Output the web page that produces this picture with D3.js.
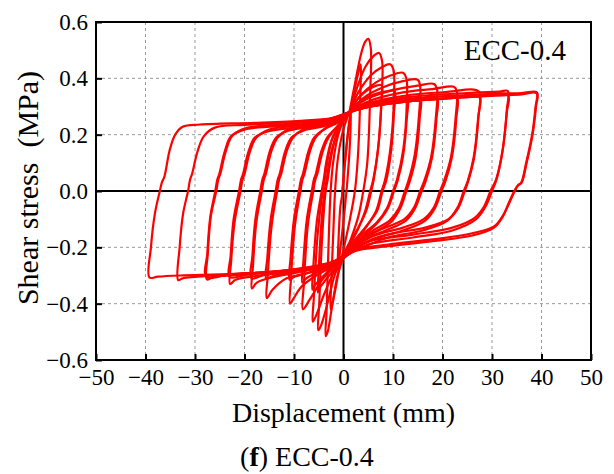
<!DOCTYPE html>
<html>
<head>
<meta charset="utf-8">
<script src="https://cdn.jsdelivr.net/npm/d3@7"></script>
<style>
  body { margin: 0; background: #fff; }
  svg { display: block; }
  svg text { font-family: "Liberation Serif", "Times New Roman", serif !important; fill: #000; }
</style>
</head>
<body>
<svg id="chart" width="614" height="474"></svg>
<script>
// Axis tick values
const xTicks = [-50, -40, -30, -20, -10, 0, 10, 20, 30, 40, 50];
const yTicks = [-0.6, -0.4, -0.2, 0, 0.2, 0.4, 0.6];

// Hysteresis cycles: [displacement (mm), shear stress (MPa)]
const cycle01 = [[-0.3,-0.02],[0.4,0.12],[1.1,0.24],[1.5,0.28],[1.3,0.17],[0.8,0.04],[0.1,-0.09],[-0.6,-0.2],[-1.0,-0.26],[-1.2,-0.28],[-1.0,-0.17],[-0.6,-0.05],[-0.3,-0.02]];
const cycle02 = [[-0.3,-0.02],[0.5,0.14],[1.5,0.28],[2.6,0.39],[3.3,0.44],[3.5,0.45],[3.4,0.34],[2.9,0.12],[2.3,0.0],[1.3,-0.1],[0.1,-0.2],[-0.9,-0.28],[-2.0,-0.38],[-2.6,-0.42],[-2.4,-0.3],[-2.0,-0.12],[-1.7,0.0],[-1.1,0.12],[0.0,0.22],[1.2,0.28]];
const cycle03 = [[1.2,0.28],[2.3,0.38],[3.6,0.49],[4.4,0.53],[5.0,0.54],[5.5,0.51],[5.4,0.35],[4.8,0.1],[4.0,0.0],[3.0,-0.09],[1.5,-0.17],[0.0,-0.235],[-1.2,-0.3],[-2.4,-0.42],[-3.2,-0.5],[-3.6,-0.515],[-3.4,-0.42],[-3.0,-0.18],[-2.6,0.0],[-2.1,0.1],[-1.2,0.19],[0.0,0.25],[1.2,0.28]];
const cycle04 = [[1.2,0.28],[2.8,0.37],[4.4,0.44],[6.0,0.478],[7.2,0.49],[7.8,0.46],[7.7,0.33],[7.1,0.17],[6.0,0.04],[5.4,0.0],[4.4,-0.07],[2.8,-0.14],[1.0,-0.2],[-0.5,-0.245],[-1.8,-0.3],[-3.4,-0.41],[-4.6,-0.48],[-5.1,-0.494],[-4.9,-0.4],[-4.3,-0.16],[-3.6,0.0],[-3.2,0.04],[-2.6,0.11],[-1.6,0.19],[-0.2,0.245],[1.2,0.28]];
const cycle04b = [[1.2,0.28],[3.0,0.33],[5.0,0.36],[6.8,0.375],[7.7,0.375],[7.6,0.3],[7.0,0.15],[6.1,0.04],[5.6,0.0],[4.6,-0.07],[3.0,-0.13],[1.0,-0.19],[-0.5,-0.24],[-2.0,-0.28],[-3.8,-0.32],[-5.0,-0.35],[-5.2,-0.36],[-5.0,-0.28],[-4.5,-0.12],[-3.8,0.0],[-3.4,0.04],[-2.8,0.11],[-1.8,0.18],[-0.3,0.24],[1.2,0.28]];
const cycle05 = [[1.2,0.28],[3.0,0.35],[5.5,0.41],[7.8,0.44],[9.4,0.45],[10.1,0.43],[10.2,0.34],[9.6,0.17],[8.4,0.04],[7.7,0.0],[6.6,-0.07],[4.5,-0.13],[2.0,-0.19],[-0.3,-0.24],[-2.0,-0.29],[-4.0,-0.37],[-5.6,-0.445],[-6.2,-0.464],[-6.0,-0.38],[-5.2,-0.15],[-4.2,0.0],[-3.8,0.04],[-3.2,0.11],[-2.2,0.19],[-0.5,0.24],[1.2,0.28]];
const cycle05b = [[1.2,0.28],[3.5,0.32],[6.5,0.345],[9.0,0.355],[10.3,0.355],[10.2,0.28],[9.6,0.14],[8.6,0.035],[7.9,0.0],[6.8,-0.07],[4.8,-0.12],[2.0,-0.18],[-0.3,-0.235],[-2.5,-0.275],[-4.5,-0.31],[-6.0,-0.34],[-6.3,-0.35],[-6.1,-0.27],[-5.4,-0.11],[-4.4,0.0],[-4.0,0.04],[-3.4,0.11],[-2.4,0.18],[-0.7,0.23],[1.2,0.28]];
const cycle06 = [[1.2,0.28],[3.5,0.34],[6.5,0.385],[9.5,0.41],[12.0,0.42],[12.7,0.4],[12.8,0.32],[12.1,0.15],[10.8,0.04],[10.0,0.0],[8.8,-0.06],[6.8,-0.11],[3.5,-0.16],[0.5,-0.225],[-2.0,-0.27],[-4.5,-0.32],[-6.8,-0.385],[-8.2,-0.42],[-8.0,-0.33],[-7.2,-0.12],[-6.1,0.0],[-5.7,0.04],[-5.3,0.06],[-4.2,0.14],[-3.0,0.19],[-1.2,0.23],[1.2,0.28]];
const cycle06b = [[1.2,0.28],[4.0,0.3],[8.0,0.318],[11.5,0.328],[12.9,0.33],[12.8,0.26],[12.0,0.12],[10.9,0.035],[10.2,0.0],[9.0,-0.06],[7.0,-0.11],[3.5,-0.17],[0.5,-0.23],[-2.5,-0.265],[-5.5,-0.29],[-7.5,-0.31],[-8.3,-0.325],[-8.1,-0.25],[-7.4,-0.1],[-6.4,0.0],[-6.0,0.04],[-5.6,0.06],[-4.5,0.14],[-3.3,0.19],[-1.5,0.225],[1.2,0.28]];
const cycle07 = [[1.2,0.28],[4.0,0.33],[8.0,0.368],[12.0,0.39],[15.0,0.395],[15.5,0.37],[15.3,0.28],[14.4,0.13],[13.1,0.035],[12.4,0.0],[11.2,-0.06],[9.3,-0.105],[6.0,-0.14],[3.0,-0.18],[0.5,-0.225],[-2.0,-0.265],[-5.5,-0.3],[-8.5,-0.34],[-10.2,-0.385],[-10.8,-0.40],[-10.6,-0.31],[-9.8,-0.12],[-8.7,0.0],[-8.3,0.04],[-7.9,0.06],[-6.8,0.14],[-5.6,0.19],[-3.5,0.225],[-1.0,0.25],[1.2,0.28]];
const cycle07b = [[1.2,0.28],[4.5,0.3],[9.0,0.318],[13.5,0.326],[15.5,0.33],[15.4,0.26],[14.6,0.12],[13.4,0.035],[12.7,0.0],[11.5,-0.06],[9.6,-0.11],[6.0,-0.15],[3.0,-0.19],[0.5,-0.23],[-3.0,-0.265],[-7.0,-0.29],[-10.0,-0.305],[-10.9,-0.315],[-10.7,-0.24],[-10.0,-0.1],[-9.0,0.0],[-8.6,0.04],[-8.2,0.06],[-7.1,0.14],[-5.9,0.19],[-3.8,0.22],[-1.0,0.245],[1.2,0.28]];
const cycle08 = [[1.2,0.28],[4.5,0.325],[10.0,0.358],[15.0,0.374],[18.3,0.38],[18.9,0.36],[18.7,0.27],[17.7,0.12],[16.3,0.035],[15.5,0.0],[14.2,-0.06],[12.3,-0.1],[8.5,-0.13],[4.0,-0.165],[0.8,-0.22],[-2.0,-0.26],[-7.0,-0.29],[-11.5,-0.31],[-14.3,-0.35],[-15.5,-0.38],[-15.3,-0.3],[-14.5,-0.12],[-13.4,0.0],[-13.0,0.04],[-12.6,0.06],[-11.5,0.14],[-10.2,0.19],[-8.0,0.22],[-3.0,0.24],[1.2,0.28]];
const cycle08b = [[1.2,0.28],[5.0,0.3],[11.0,0.318],[16.5,0.326],[18.9,0.33],[18.8,0.26],[17.9,0.12],[16.6,0.035],[15.8,0.0],[14.5,-0.06],[12.6,-0.105],[8.5,-0.14],[4.0,-0.175],[0.8,-0.225],[-3.0,-0.265],[-9.0,-0.285],[-14.0,-0.3],[-15.6,-0.31],[-15.4,-0.24],[-14.7,-0.1],[-13.7,0.0],[-13.3,0.04],[-12.9,0.06],[-11.8,0.14],[-10.5,0.19],[-8.0,0.215],[-3.0,0.235],[1.2,0.28]];
const cycle09 = [[1.2,0.28],[5.0,0.318],[12.0,0.35],[18.0,0.362],[22.3,0.37],[22.9,0.355],[22.7,0.27],[21.7,0.12],[20.3,0.035],[19.5,0.0],[18.2,-0.06],[16.2,-0.1],[12.0,-0.13],[6.0,-0.16],[1.0,-0.215],[-2.0,-0.255],[-8.0,-0.285],[-14.0,-0.305],[-17.5,-0.325],[-18.5,-0.346],[-18.3,-0.27],[-17.6,-0.11],[-16.5,0.0],[-16.1,0.04],[-15.7,0.06],[-14.6,0.14],[-13.3,0.19],[-11.0,0.22],[-4.0,0.24],[1.2,0.28]];
const cycle09b = [[1.2,0.28],[5.5,0.3],[13.0,0.318],[20.0,0.327],[22.9,0.332],[22.8,0.26],[21.9,0.12],[20.6,0.035],[19.8,0.0],[18.5,-0.06],[16.5,-0.105],[12.0,-0.14],[6.0,-0.17],[1.0,-0.22],[-3.0,-0.26],[-10.0,-0.285],[-16.0,-0.298],[-18.6,-0.31],[-18.4,-0.23],[-17.8,-0.1],[-16.8,0.0],[-16.4,0.04],[-16.0,0.06],[-14.9,0.14],[-13.6,0.19],[-11.0,0.215],[-4.0,0.235],[1.2,0.28]];
const cycle10 = [[1.2,0.28],[5.0,0.312],[13.0,0.34],[21.0,0.352],[26.3,0.36],[27.5,0.35],[27.3,0.27],[26.4,0.12],[25.2,0.035],[24.5,0.0],[23.2,-0.06],[21.2,-0.1],[16.5,-0.13],[9.0,-0.155],[2.0,-0.205],[-2.0,-0.25],[-9.0,-0.28],[-17.0,-0.3],[-21.8,-0.315],[-22.9,-0.33],[-22.7,-0.25],[-22.0,-0.11],[-20.8,0.0],[-20.4,0.04],[-20.0,0.06],[-18.9,0.14],[-17.6,0.19],[-15.0,0.218],[-6.0,0.24],[1.2,0.28]];
const cycle10b = [[1.2,0.28],[5.5,0.3],[14.0,0.32],[22.0,0.33],[27.4,0.335],[27.2,0.26],[26.3,0.12],[25.1,0.035],[24.3,0.0],[23.0,-0.06],[21.0,-0.105],[16.0,-0.14],[9.0,-0.165],[2.0,-0.215],[-3.0,-0.26],[-11.0,-0.283],[-19.0,-0.296],[-23.0,-0.305],[-22.8,-0.23],[-22.2,-0.1],[-21.1,0.0],[-20.7,0.04],[-20.3,0.06],[-19.2,0.14],[-17.9,0.19],[-15.0,0.213],[-6.0,0.235],[1.2,0.28]];
const cycle11 = [[1.2,0.28],[5.0,0.31],[14.0,0.335],[25.0,0.348],[31.5,0.353],[33.2,0.355],[33.0,0.29],[32.2,0.15],[30.9,0.045],[30.3,0.02],[29.7,0.0],[28.4,-0.055],[26.5,-0.095],[22.0,-0.13],[14.0,-0.155],[5.0,-0.18],[0.5,-0.225],[-3.0,-0.258],[-12.0,-0.283],[-21.0,-0.298],[-26.3,-0.305],[-27.6,-0.314],[-27.4,-0.22],[-26.8,-0.09],[-25.7,0.0],[-25.3,0.04],[-24.9,0.06],[-23.8,0.14],[-22.5,0.195],[-20.0,0.222],[-10.0,0.24],[-2.0,0.255],[1.2,0.28]];
const cycle11b = [[1.2,0.28],[5.5,0.3],[15.0,0.322],[26.0,0.335],[33.2,0.34],[33.0,0.28],[32.1,0.14],[30.9,0.04],[30.0,0.0],[28.7,-0.055],[26.8,-0.1],[22.0,-0.14],[14.0,-0.165],[5.0,-0.19],[0.5,-0.23],[-3.0,-0.262],[-13.0,-0.285],[-23.0,-0.296],[-27.7,-0.305],[-27.5,-0.22],[-26.9,-0.09],[-25.9,0.0],[-25.5,0.04],[-25.1,0.06],[-24.0,0.14],[-22.7,0.195],[-20.0,0.218],[-10.0,0.235],[-2.0,0.25],[1.2,0.28]];
const cycle12 = [[1.2,0.28],[5.0,0.305],[15.0,0.33],[28.0,0.343],[36.0,0.348],[39.1,0.35],[38.9,0.3],[38.2,0.2],[37.0,0.1],[36.0,0.03],[35.3,0.02],[34.6,0.0],[33.3,-0.05],[32.3,-0.085],[30.5,-0.125],[26.0,-0.15],[18.0,-0.172],[9.0,-0.19],[2.0,-0.21],[-1.0,-0.245],[-10.0,-0.278],[-22.0,-0.296],[-30.0,-0.305],[-32.5,-0.31],[-33.4,-0.316],[-33.1,-0.2],[-32.4,-0.08],[-31.4,0.0],[-31.0,0.04],[-30.6,0.06],[-29.5,0.14],[-28.2,0.195],[-26.0,0.225],[-20.0,0.235],[-10.0,0.245],[-3.0,0.255],[1.2,0.28]];
const cycle13 = [[1.2,0.28],[5.0,0.3],[15.0,0.322],[28.0,0.336],[36.0,0.343],[39.0,0.347],[38.8,0.3],[38.1,0.2],[36.9,0.1],[35.9,0.03],[35.2,0.02],[34.5,0.0],[33.2,-0.05],[32.2,-0.09],[30.4,-0.13],[26.0,-0.158],[18.0,-0.178],[9.0,-0.196],[2.0,-0.215],[-1.0,-0.25],[-10.0,-0.28],[-22.0,-0.294],[-33.0,-0.3],[-37.5,-0.304],[-39.2,-0.307],[-38.9,-0.2],[-38.1,-0.08],[-37.1,0.0],[-36.7,0.03],[-36.2,0.05],[-35.1,0.146],[-34.0,0.2],[-32.5,0.228],[-29.0,0.236],[-18.0,0.242],[-8.0,0.25],[-2.0,0.26],[1.2,0.28]];

const cycles = [cycle01, cycle02, cycle03, cycle04, cycle04b, cycle05, cycle05b,
  cycle06, cycle06b, cycle07, cycle07b, cycle08, cycle08b, cycle09, cycle09b,
  cycle10, cycle10b, cycle11, cycle11b, cycle12, cycle13];

const serif = "'Liberation Serif', 'Times New Roman', serif";
const svg = d3.select("#chart");
const plot = { left: 96, right: 591, top: 22, bottom: 360 };

const x = d3.scaleLinear().domain([-50, 50]).range([plot.left, plot.right]);
const y = d3.scaleLinear().domain([-0.6, 0.6]).range([plot.bottom, plot.top]);

const minus = v => (v < 0 ? "\u2212" + Math.abs(v) : String(v));

// dotted grid
const grid = svg.append("g").attr("stroke", "#999").attr("stroke-width", 1).attr("stroke-dasharray", "3,3");
grid.selectAll("line.gx").data(xTicks.filter(t => t !== 0 && Math.abs(t) !== 50)).join("line")
  .attr("x1", d => x(d)).attr("x2", d => x(d)).attr("y1", plot.top).attr("y2", plot.bottom);
grid.selectAll("line.gy").data(yTicks.filter(t => t !== 0 && Math.abs(t) !== 0.6)).join("line")
  .attr("x1", plot.left).attr("x2", plot.right).attr("y1", d => y(d)).attr("y2", d => y(d));

// zero lines
svg.append("line").attr("x1", x(0)).attr("x2", x(0)).attr("y1", plot.top).attr("y2", plot.bottom)
  .attr("stroke", "#000").attr("stroke-width", 2);
svg.append("line").attr("x1", plot.left).attr("x2", plot.right).attr("y1", y(0)).attr("y2", y(0))
  .attr("stroke", "#000").attr("stroke-width", 2);

// hysteresis loops
const line = d3.line().x(d => x(d[0])).y(d => y(d[1])).curve(d3.curveCatmullRom.alpha(0.5));
svg.append("g").selectAll("path").data(cycles).join("path")
  .attr("d", line).attr("fill", "none").attr("stroke", "#ff0000")
  .attr("stroke-width", 2.2).attr("stroke-linejoin", "round").attr("stroke-linecap", "round");

// axes with inward ticks
const xAxis = svg.append("g").attr("transform", `translate(0,${plot.bottom})`)
  .call(d3.axisBottom(x).tickValues(xTicks).tickSizeInner(-6).tickSizeOuter(0).tickPadding(9).tickFormat(minus));
const yAxis = svg.append("g").attr("transform", `translate(${plot.left},0)`)
  .call(d3.axisLeft(y).tickValues(yTicks).tickSizeInner(-6).tickSizeOuter(0).tickPadding(8).tickFormat(d3.format(".1f")));
[xAxis, yAxis].forEach(g => {
  g.attr("font-family", serif).attr("font-size", 23);
  g.select(".domain").remove();
  g.selectAll(".tick line").attr("stroke", "#000").attr("stroke-width", 2);
  g.selectAll(".tick text").style("font-family", serif).style("font-size", "23px").attr("fill", "#000");
});

// frame
svg.append("rect").attr("x", plot.left).attr("y", plot.top)
  .attr("width", plot.right - plot.left).attr("height", plot.bottom - plot.top)
  .attr("fill", "none").attr("stroke", "#000").attr("stroke-width", 2);

// labels
const label = (sel, size) => sel.style("font-family", serif).style("font-size", size + "px");
label(svg.append("text").attr("x", 566).attr("y", 60).attr("text-anchor", "end"), 29).text("ECC-0.4");
label(svg.append("text").attr("x", x(0)).attr("y", 422).attr("text-anchor", "middle"), 28).text("Displacement (mm)");
label(svg.append("text").attr("transform", `translate(38,188) rotate(-90)`)
  .attr("text-anchor", "middle").style("white-space", "pre"), 30).text("Shear stress  (MPa)");
const cap = label(svg.append("text").attr("x", 307).attr("y", 466).attr("text-anchor", "middle"), 28);
cap.append("tspan").text("(");
cap.append("tspan").attr("font-weight", "bold").text("f");
cap.append("tspan").text(") ECC-0.4");
</script>
</body>
</html>
